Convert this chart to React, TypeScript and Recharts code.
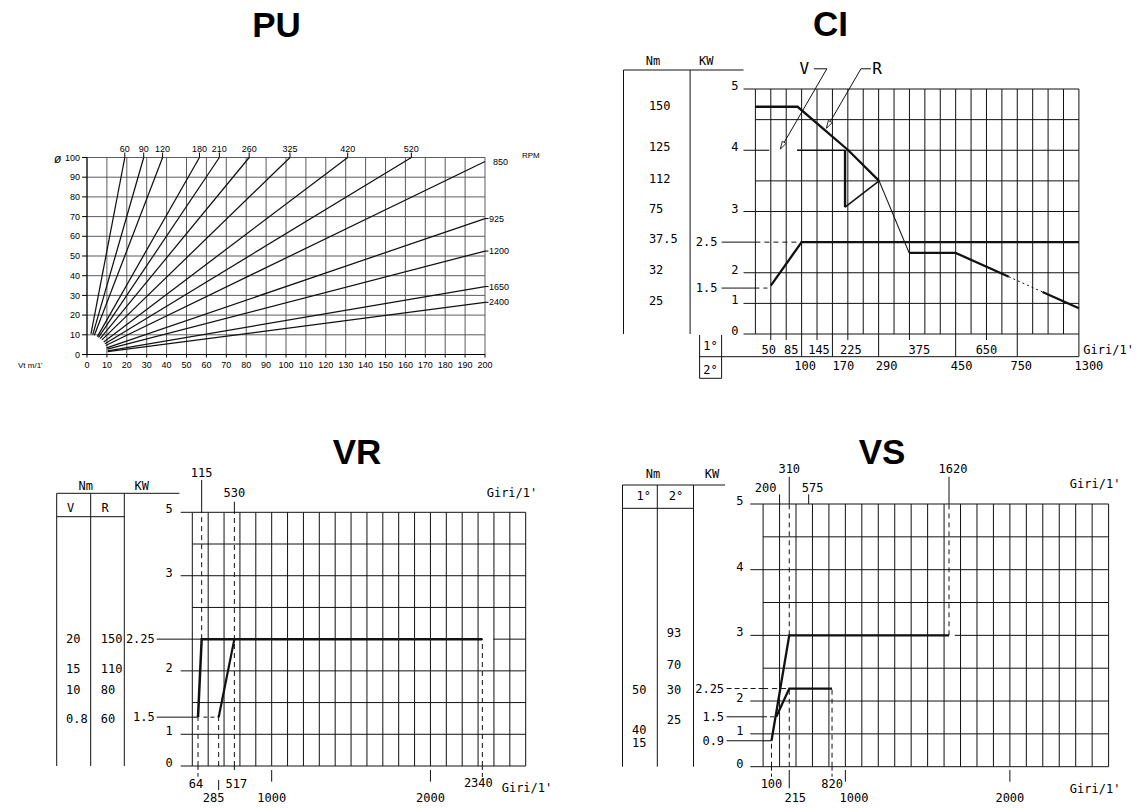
import React from "react";
import { LineChart, Line, XAxis, YAxis, CartesianGrid, ReferenceLine } from "recharts";

const MONO = "'DejaVu Sans Mono', 'Liberation Mono', monospace";
const SANS = "'Liberation Sans', Arial, sans-serif";
const INK = "#111";
const DASH = "5 4";

// ---------------- PU : Vt (m/1') against diameter ø, one ray per RPM ----------------
const puVtTicks = [0, 10, 20, 30, 40, 50, 60, 70, 80, 90, 100, 110, 120, 130, 140, 150, 160, 170, 180, 190, 200];
const puDiaTicks = [0, 10, 20, 30, 40, 50, 60, 70, 80, 90, 100];
const puTopRpm = [60, 90, 120, 180, 210, 260, 325, 420, 520];
const puTopVt = [19, 28.5, 38, 56.5, 66.5, 81.5, 102, 131, 163]; // where the ray meets ø 100
const puRightRpm = [850, 925, 1200, 1650, 2400];
const puRightDia = [98, 69, 52.5, 34.5, 26.5]; // where the ray meets Vt 200
const puStartVt = [2, 2.9, 3.7, 5.2, 5.8, 6.6, 7.5, 8.4, 9, 9.4, 9.9, 10.2, 10.4, 10.4];
const puStartDia = [10.5, 10.1, 9.8, 9.1, 8.7, 8.1, 7.4, 6.4, 5.5, 4.6, 3.4, 2.7, 1.8, 1.4];

const puRays = [
  ...puTopRpm.map((rpm, i) => ({
    rpm,
    pts: [{ vt: puStartVt[i], d: puStartDia[i] }, { vt: puTopVt[i], d: 100 }],
  })),
  ...puRightRpm.map((rpm, j) => ({
    rpm,
    pts: [{ vt: puStartVt[9 + j], d: puStartDia[9 + j] }, { vt: 200, d: puRightDia[j] }],
  })),
];

// ---------------- shared grid (diagram divisions) ----------------
const cols21 = [0, 1, 2, 3, 4, 5, 6, 7, 8, 9, 10, 11, 12, 13, 14, 15, 16, 17, 18, 19, 20, 21];
const rowsNo4 = [0, 1, 2, 3, 5, 6, 7, 8];

type Pt = { x: number; y: number };

// ---------------- CI ----------------
const ciKwLabels = ["0", "1", "1.5", "2", "2.5", "3", "4", "5"];
const ciKwRows = [0, 1, 1.5, 2, 3, 4, 6, 8];
const ciNmLabels = ["150", "125", "112", "75", "37.5", "32", "25"];
const ciNmRows = [7.45, 6.1, 5.07, 4.1, 3.12, 2.11, 1.1];
const ciGear1 = ["50", "85", "145", "225", "375", "650"];
const ciGear1Cols = [1, 2, 4, 6, 10, 15];
const ciGear2 = ["100", "170", "290", "450", "750", "1300"];
const ciGear2Cols = [3, 5, 8, 13, 17, 21];
const ciGridRows = [0, 1, 2, 4, 5, 7, 8];

const ciR: Pt[] = [{ x: 0, y: 7.42 }, { x: 2.74, y: 7.42 }, { x: 6.03, y: 6 }, { x: 8.03, y: 5 }];
const ciRFall: Pt[] = [{ x: 8.03, y: 5 }, { x: 9.98, y: 2.65 }];
const ciRTail: Pt[] = [{ x: 9.98, y: 2.65 }, { x: 12.99, y: 2.65 }, { x: 16.45, y: 1.87 }];
const ciRFaint: Pt[] = [{ x: 16.45, y: 1.87 }, { x: 18.64, y: 1.37 }];
const ciREnd: Pt[] = [{ x: 18.64, y: 1.37 }, { x: 21, y: 0.84 }];
const ciVLead: Pt[] = [{ x: 0, y: 6 }, { x: 0.9, y: 6 }];
const ciVFlat: Pt[] = [{ x: 2.7, y: 6 }, { x: 5.82, y: 6 }];
const ciVDrop: Pt[] = [{ x: 5.82, y: 6 }, { x: 5.82, y: 4.14 }];
const ciVRise: Pt[] = [{ x: 5.82, y: 4.14 }, { x: 8.03, y: 5 }];
const ciLow: Pt[] = [{ x: 1, y: 1.58 }, { x: 3, y: 3 }, { x: 21, y: 3 }];
const ciLowDash: Pt[] = [{ x: 0, y: 3 }, { x: 3, y: 3 }];
const ci15Dash: Pt[] = [{ x: 0, y: 1.5 }, { x: 1, y: 1.5 }];
const ciLeaders = [
  { name: "V", bar: [3.8, 4.64], from: { x: 4.64, y: 8.66 }, to: { x: 1.62, y: 6.04 } },
  { name: "R", bar: [6.85, 7.5], from: { x: 6.85, y: 8.66 }, to: { x: 4.61, y: 6.72 } },
];

// ---------------- VR ----------------
const vrKwLabels = ["0", "1", "1.5", "2", "2.25", "3", "5"];
const vrKwRows = [0, 1, 1.54, 3, 4, 6, 8];
const vrNmV = ["20", "15", "10", "0.8"];
const vrNmR = ["150", "110", "80", "60"];
const vrNmRows = [4, 3.07, 2.4, 1.5];
const vrBottomLabels = ["64", "285", "517", "1000", "2000", "2340"];
const vrBottomCols = [0.36, 1.66, 2.65, 5, 15, 18.27];
const vrTopLabels = ["115", "530"];
const vrTopCols = [0.59, 2.65];
const vrV: Pt[] = [{ x: 0.36, y: 1.54 }, { x: 0.59, y: 4 }, { x: 18.27, y: 4 }];
const vrR: Pt[] = [{ x: 1.66, y: 1.54 }, { x: 2.65, y: 4 }];

// ---------------- VS ----------------
const vsKwLabels = ["0", "0.9", "1", "1.5", "2", "2.25", "3", "4", "5"];
const vsKwRows = [0, 0.79, 1, 1.52, 2, 2.38, 4, 6, 8];
const vsNm1 = ["50", "40", "15"];
const vsNm1Rows = [2.36, 1.12, 0.72];
const vsNm2 = ["93", "70", "30", "25"];
const vsNm2Rows = [4.08, 3.1, 2.36, 1.44];
const vsBottomLabels = ["100", "215", "820", "1000", "2000"];
const vsBottomCols = [0.51, 1.59, 4.19, 5, 15];
const vsTopLabels = ["200", "310", "575", "1620"];
const vsTopCols = [1, 1.59, 2.77, 11.3];
const vs3kw: Pt[] = [{ x: 0.51, y: 0.79 }, { x: 1.59, y: 4 }, { x: 11.3, y: 4 }];
const vs225kw: Pt[] = [{ x: 0.8, y: 1.52 }, { x: 1.59, y: 2.38 }, { x: 4.19, y: 2.38 }];

// ---------------- config types ----------------
type Mark = { label: string; at: number; base: number; from: number; to: number; dash?: boolean; dx: number };
type MarkStyle = Omit<Mark, "label" | "at">;
type Series = { pts: Pt[]; w: number; dash?: string };
type TextCol = { label: string; at: number; dx: number };
type KwStyle = { intEnd: number; intFrom: number; decEnd: number; decFrom: number; dashed: string[] };
type Rect = { left: number; top: number; width: number; height: number };
type Plot = { left: number; right: number; top: number; bottom: number };

interface PlotCfg {
  box: Rect;
  plot: Plot;
  kw: { label: string; at: number }[];
  kwStyle: KwStyle;
  nm: TextCol[];
  bottom: Mark[];
  top: Mark[];
  gridCols: number[];
  gridRows: number[];
  gridSegs: { y: number; x1: number; x2: number }[];
  series: Series[];
  leaders?: typeof ciLeaders;
}

const near = (a: number, b: number) => Math.abs(a - b) < 1e-6;
const uniqSorted = (v: number[]) => Array.from(new Set(v)).sort((a, b) => a - b);
const marks = (labels: string[], at: number[], style: (l: string) => MarkStyle): Mark[] =>
  labels.map((label, i) => ({ label, at: at[i], ...style(label) }));

// CI
const ciDx: Record<string, number> = {
  "50": -2, "85": 5, "145": 2, "225": 3, "375": 10, "650": 0,
  "100": 3.6, "170": 11, "290": 8, "450": 6, "750": 4, "1300": 10,
};
const ciCfg: PlotCfg = {
  box: { left: 600, top: 40, width: 541, height: 345 },
  plot: { left: 755.4, right: 1078.9, top: 89, bottom: 334 },
  kw: ciKwLabels.map((label, i) => ({ label, at: ciKwRows[i] })),
  kwStyle: { intEnd: -16.9, intFrom: -11.9, decEnd: -37.9, decFrom: -33.8, dashed: [] },
  nm: ciNmLabels.map((label, i) => ({ label, at: ciNmRows[i], dx: -106.5 })),
  bottom: [
    ...marks(ciGear1, ciGear1Cols, (l) => ({ base: 20, from: 0, to: 6, dx: ciDx[l] })),
    ...marks(ciGear2, ciGear2Cols, (l) => ({ base: 36, from: 0, to: 22.7, dx: ciDx[l] })),
  ],
  top: [],
  gridCols: cols21,
  gridRows: ciGridRows,
  gridSegs: [{ y: 6, x1: 5.82, x2: 21 }],
  series: [
    { pts: ciR, w: 2.3 },
    { pts: ciRFall, w: 1.1 },
    { pts: ciRTail, w: 2.3 },
    { pts: ciRFaint, w: 1, dash: "2 3" },
    { pts: ciREnd, w: 2.3 },
    { pts: ciVLead, w: 1.1 },
    { pts: ciVFlat, w: 1.6 },
    { pts: ciVDrop, w: 2.4 },
    { pts: ciVRise, w: 1.5 },
    { pts: ciLow, w: 2.3 },
    { pts: ciLowDash, w: 1, dash: DASH },
    { pts: ci15Dash, w: 1, dash: "4 4" },
  ],
  leaders: ciLeaders,
};

// VR
const vrBottomStyle: Record<string, MarkStyle> = {
  "64": { base: 22.3, from: 0, to: 10.7, dash: true, dx: -2 },
  "285": { base: 35.7, from: 14, to: 24, dx: -5 },
  "517": { base: 22.3, from: 0, to: 5.7, dash: true, dx: 2 },
  "1000": { base: 35.7, from: 4, to: 15.7, dx: 0 },
  "2000": { base: 35.7, from: 4, to: 15.7, dx: 0 },
  "2340": { base: 20.7, from: 0, to: 12.3, dash: true, dx: -4 },
};
const vrTopStyle: Record<string, MarkStyle> = {
  "115": { base: 35.6, from: 0, to: 32.3, dx: 0 },
  "530": { base: 15.6, from: 0, to: 10.6, dx: 0 },
};
const vrCfg: PlotCfg = {
  box: { left: 40, top: 455, width: 530, height: 350 },
  plot: { left: 192.3, right: 525.7, top: 512.3, bottom: 766 },
  kw: vrKwLabels.map((label, i) => ({ label, at: vrKwRows[i] })),
  kwStyle: { intEnd: -19.6, intFrom: -11.6, decEnd: -37.5, decFrom: -35.6, dashed: [] },
  nm: [
    ...vrNmV.map((label, i) => ({ label, at: vrNmRows[i], dx: -126.3 })),
    ...vrNmR.map((label, i) => ({ label, at: vrNmRows[i], dx: -91.6 })),
  ],
  bottom: marks(vrBottomLabels, vrBottomCols, (l) => vrBottomStyle[l]),
  top: marks(vrTopLabels, vrTopCols, (l) => vrTopStyle[l]),
  gridCols: cols21,
  gridRows: rowsNo4,
  gridSegs: [{ y: 4, x1: 0, x2: 18.27 }, { y: 4, x1: 18.96, x2: 21 }],
  series: [
    { pts: vrV, w: 2.5 },
    { pts: vrR, w: 2.2 },
    { pts: [{ x: 0.59, y: 4 }, { x: 0.59, y: 8 }], w: 1, dash: DASH },
    { pts: [{ x: 2.65, y: 0 }, { x: 2.65, y: 8 }], w: 1, dash: DASH },
    { pts: [{ x: 0.36, y: 0 }, { x: 0.36, y: 1.54 }], w: 1, dash: DASH },
    { pts: [{ x: 1.66, y: 0 }, { x: 1.66, y: 1.54 }], w: 1, dash: DASH },
    { pts: [{ x: 18.27, y: 0 }, { x: 18.27, y: 4 }], w: 1, dash: DASH },
    { pts: [{ x: 0, y: 1.54 }, { x: 0.36, y: 1.54 }], w: 1.1 },
    { pts: [{ x: 0.7, y: 1.54 }, { x: 1.66, y: 1.54 }], w: 1, dash: "4 3" },
  ],
};

// VS
const vsBottomStyle: Record<string, MarkStyle> = {
  "100": { base: 21.6, from: 0, to: 10, dash: true, dx: 0 },
  "215": { base: 35, from: 3.3, to: 21.6, dx: 6 },
  "820": { base: 21.6, from: 0, to: 10, dash: true, dx: 0 },
  "1000": { base: 35, from: 3.3, to: 15, dx: 8.7 },
  "2000": { base: 35, from: 3.3, to: 15, dx: 0 },
};
const vsTopStyle: Record<string, MarkStyle> = {
  "200": { base: 12.3, from: 0, to: 9.7, dx: -14 },
  "310": { base: 30.7, from: 0, to: 27.3, dx: 0 },
  "575": { base: 12.3, from: 0, to: 9.7, dx: 4 },
  "1620": { base: 30.7, from: 0, to: 27.3, dx: 4 },
};
const vsCfg: PlotCfg = {
  box: { left: 610, top: 455, width: 531, height: 350 },
  plot: { left: 763.1, right: 1108.6, top: 504, bottom: 766.7 },
  kw: vsKwLabels.map((label, i) => ({ label, at: vsKwRows[i] })),
  kwStyle: { intEnd: -19.6, intFrom: -12.8, decEnd: -39, decFrom: -36.5, dashed: ["2.25"] },
  nm: [
    ...vsNm1.map((label, i) => ({ label, at: vsNm1Rows[i], dx: -131.1 })),
    ...vsNm2.map((label, i) => ({ label, at: vsNm2Rows[i], dx: -96.3 })),
  ],
  bottom: marks(vsBottomLabels, vsBottomCols, (l) => vsBottomStyle[l]),
  top: marks(vsTopLabels, vsTopCols, (l) => vsTopStyle[l]),
  gridCols: cols21,
  gridRows: rowsNo4,
  gridSegs: [{ y: 4, x1: 0, x2: 11.3 }, { y: 4, x1: 11.65, x2: 21 }],
  series: [
    { pts: vs3kw, w: 2.3 },
    { pts: vs225kw, w: 2.3 },
    { pts: [{ x: 0.51, y: 0 }, { x: 0.51, y: 0.79 }], w: 1, dash: DASH },
    { pts: [{ x: 1.59, y: 4 }, { x: 1.59, y: 8 }], w: 1, dash: DASH },
    { pts: [{ x: 1.59, y: 0 }, { x: 1.59, y: 2.38 }], w: 1, dash: DASH },
    { pts: [{ x: 4.19, y: 0 }, { x: 4.19, y: 2.38 }], w: 1, dash: DASH },
    { pts: [{ x: 11.3, y: 4 }, { x: 11.3, y: 8 }], w: 1, dash: DASH },
    { pts: [{ x: 0, y: 2.38 }, { x: 1.59, y: 2.38 }], w: 1, dash: DASH },
    { pts: [{ x: 0, y: 1.52 }, { x: 0.8, y: 1.52 }], w: 1, dash: "4 3" },
    { pts: [{ x: 0, y: 0.79 }, { x: 0.51, y: 0.79 }], w: 1.1 },
  ],
};

// ---------------- components ----------------
const monoText = { fontFamily: MONO, fontSize: 12, fill: "#000" } as const;

function LeaderShape(p: any) {
  const { x1, y1, x2, y2 } = p;
  if (x1 == null) return null;
  const a = Math.atan2(y2 - y1, x2 - x1);
  const L = 8;
  const h1 = [x2 - L * Math.cos(a - 0.28), y2 - L * Math.sin(a - 0.28)];
  const h2 = [x2 - L * Math.cos(a + 0.28), y2 - L * Math.sin(a + 0.28)];
  return (
    <g>
      <line x1={x1} y1={y1} x2={x2} y2={y2} stroke={INK} strokeWidth={1} />
      <path d={`M${h1[0]},${h1[1]}L${x2},${y2}L${h2[0]},${h2[1]}Z`} fill="#fff" stroke={INK} strokeWidth={0.9} />
    </g>
  );
}

function PlotterChart({ c }: { c: PlotCfg }) {
  const { box, plot } = c;
  const yWidth = plot.left - box.left;
  const bottomH = box.top + box.height - plot.bottom;
  const topGap = plot.top - box.top;
  const hasTop = c.top.length > 0;
  const margin = { left: 0, right: box.left + box.width - plot.right, top: hasTop ? 0 : topGap, bottom: 0 };
  const yTicks = uniqSorted([...c.kw.map((k) => k.at), ...c.nm.map((n) => n.at)]);

  const YTick = (p: any) => {
    const { x, y, payload } = p;
    const v = payload.value;
    const s = c.kwStyle;
    return (
      <g>
        {c.kw.filter((k) => near(k.at, v)).map((k) => {
          const dec = k.label.includes(".");
          return (
            <g key={"k" + k.label}>
              <line x1={x + (dec ? s.decFrom : s.intFrom)} x2={x} y1={y} y2={y} stroke={INK}
                strokeDasharray={s.dashed.includes(k.label) ? "5 3" : undefined} />
              <text x={x + (dec ? s.decEnd : s.intEnd)} y={y + (dec ? 4 : 1)} textAnchor="end" {...monoText}>{k.label}</text>
            </g>
          );
        })}
        {c.nm.filter((n) => near(n.at, v)).map((n) => (
          <text key={"n" + n.label + n.dx} x={x + n.dx} y={y + 4.3} textAnchor="start" {...monoText}>{n.label}</text>
        ))}
      </g>
    );
  };

  const BottomTick = (p: any) => {
    const { x, y, payload } = p;
    return (
      <g>
        {c.bottom.filter((b) => near(b.at, payload.value)).map((b) => (
          <g key={b.label}>
            <line x1={x} x2={x} y1={y + b.from} y2={y + b.to} stroke={INK} strokeDasharray={b.dash ? "4 3" : undefined} />
            <text x={x + b.dx} y={y + b.base} textAnchor="middle" {...monoText}>{b.label}</text>
          </g>
        ))}
      </g>
    );
  };

  const TopTick = (p: any) => {
    const { x, y, payload } = p;
    return (
      <g>
        {c.top.filter((b) => near(b.at, payload.value)).map((b) => (
          <g key={b.label}>
            <line x1={x} x2={x} y1={y - b.to} y2={y - b.from} stroke={INK} strokeDasharray={b.dash ? "4 3" : undefined} />
            <text x={x + b.dx} y={y - b.base} textAnchor="middle" {...monoText}>{b.label}</text>
          </g>
        ))}
      </g>
    );
  };

  return (
    <div style={{ position: "absolute", left: box.left, top: box.top }}>
      <LineChart width={box.width} height={box.height} margin={margin}>
        <XAxis dataKey="x" type="number" domain={[0, 21]} ticks={uniqSorted(c.bottom.map((b) => b.at))} interval={0}
          height={bottomH} tickSize={0} tickMargin={0} axisLine={false} tickLine={false} tick={BottomTick} />
        {hasTop && (
          <XAxis xAxisId="top" dataKey="x" orientation="top" type="number" domain={[0, 21]} ticks={uniqSorted(c.top.map((b) => b.at))}
            interval={0} height={topGap} tickSize={0} tickMargin={0} axisLine={false} tickLine={false} tick={TopTick} />
        )}
        <YAxis type="number" domain={[0, 8]} ticks={yTicks} interval={0} width={yWidth} tickSize={0} tickMargin={0}
          axisLine={false} tickLine={false} tick={YTick} />
        {c.gridCols.map((g) => (
          <ReferenceLine key={"gc" + g} x={g} stroke={INK} strokeWidth={1} ifOverflow="visible" />
        ))}
        {c.gridRows.map((g) => (
          <ReferenceLine key={"gr" + g} y={g} stroke={INK} strokeWidth={1} ifOverflow="visible" />
        ))}
        {c.gridSegs.map((g, i) => (
          <ReferenceLine key={"gs" + i} segment={[{ x: g.x1, y: g.y }, { x: g.x2, y: g.y }]} stroke={INK} strokeWidth={1} ifOverflow="visible" />
        ))}
        {c.series.map((s, i) => (
          <Line key={"s" + i} data={s.pts} dataKey="y" type="linear" stroke={INK} strokeWidth={s.w}
            strokeDasharray={s.dash} dot={false} activeDot={false} isAnimationActive={false} />
        ))}
        {hasTop && (
          <Line xAxisId="top" data={[{ x: 0, y: 0 }, { x: 21, y: 0 }]} dataKey="y" stroke="none" dot={false}
            activeDot={false} isAnimationActive={false} />
        )}
        {(c.leaders || []).map((l) => (
          <ReferenceLine key={"lb" + l.name} segment={[{ x: l.bar[0], y: l.from.y }, { x: l.bar[1], y: l.from.y }]}
            stroke={INK} strokeWidth={1} ifOverflow="visible" />
        ))}
        {(c.leaders || []).map((l) => (
          <ReferenceLine key={"ld" + l.name} segment={[l.from, l.to]} stroke={INK} strokeWidth={1} ifOverflow="visible" shape={LeaderShape} />
        ))}
      </LineChart>
    </div>
  );
}

function PuRightTick(p: any) {
  const { x, y, payload } = p;
  const i = puRightDia.indexOf(payload.value);
  const rpm = puRightRpm[i];
  const bare = rpm === 850;
  return (
    <g>
      {!bare && <line x1={x} y1={y} x2={x + 3.5} y2={y} stroke="#000" />}
      <text x={x + (bare ? 8 : 4)} y={y + 3.2} fontSize={9} fontFamily={SANS} fill="#000">{rpm}</text>
    </g>
  );
}

function PUChart() {
  const tick = { fontSize: 9, fill: "#000", fontFamily: SANS };
  return (
    <div style={{ position: "absolute", left: 0, top: 130 }}>
      <LineChart width={560} height={260} margin={{ top: 7.5, right: 25, bottom: 15.5, left: 42 }}>
        <CartesianGrid stroke="#4a4a4a" strokeWidth={0.9} />
        <XAxis dataKey="vt" type="number" domain={[0, 200]} ticks={puVtTicks} interval={0} height={20}
          tickSize={3} tickMargin={4} axisLine={{ stroke: "#000" }} tickLine={{ stroke: "#000" }} tick={tick} />
        <XAxis xAxisId="top" dataKey="vt" orientation="top" type="number" domain={[0, 200]} ticks={puTopVt} interval={0} height={20}
          tickSize={5} tickMargin={1} axisLine={false} tickLine={{ stroke: "#000" }} tick={tick}
          tickFormatter={(v: number) => String(puTopRpm[puTopVt.indexOf(v)])} />
        <YAxis type="number" domain={[0, 100]} ticks={puDiaTicks} interval={0} width={45} tickSize={5} tickMargin={2}
          axisLine={{ stroke: "#000" }} tickLine={{ stroke: "#000" }} tick={tick} />
        <YAxis yAxisId="right" orientation="right" type="number" domain={[0, 100]} ticks={puRightDia} interval={0} width={50}
          tickSize={0} tickMargin={0} axisLine={false} tickLine={false} tick={PuRightTick} />
        {puRays.map((r) => (
          <Line key={r.rpm} data={r.pts} dataKey="d" type="linear" stroke={INK} strokeWidth={1.25}
            dot={false} activeDot={false} isAnimationActive={false} />
        ))}
        <Line xAxisId="top" data={[{ vt: 0, d: 0 }, { vt: 200, d: 0 }]} dataKey="d" stroke="none" dot={false}
          activeDot={false} isAnimationActive={false} />
        <Line yAxisId="right" data={[{ vt: 0, d: 0 }, { vt: 200, d: 0 }]} dataKey="d" stroke="none" dot={false}
          activeDot={false} isAnimationActive={false} />
      </LineChart>
    </div>
  );
}

function Overlay() {
  const title = { fontFamily: SANS, fontSize: 35, fontWeight: 700, fill: "#000", textAnchor: "middle" } as const;
  const mono = { ...monoText };
  const ln = { stroke: INK, strokeWidth: 1, fill: "none" };
  return (
    <svg width={1141} height={808} style={{ position: "absolute", left: 0, top: 0, pointerEvents: "none" }}>
      <text x={276.5} y={37} {...title}>PU</text>
      <text x={830.5} y={36} {...title}>CI</text>
      <text x={357} y={464} {...title}>VR</text>
      <text x={882} y={464} {...title}>VS</text>

      {/* PU captions */}
      <text x={54} y={163} fontFamily={SANS} fontSize={12} fontStyle="italic">ø</text>
      <text x={18} y={368} fontFamily={SANS} fontSize={8}>Vt m/1'</text>
      <text x={522} y={158} fontFamily={SANS} fontSize={8}>RPM</text>

      {/* CI table */}
      <path d="M623.5,70V334M690.1,70V334M623.5,70H743.5" {...ln} />
      <text x={652.9} y={65} textAnchor="middle" {...mono}>Nm</text>
      <text x={706.3} y={65} textAnchor="middle" {...mono}>KW</text>
      <path d="M699.6,335V378.3H721.6V335M699.6,356.7H1078.9" {...ln} />
      <text x={710.6} y={350} textAnchor="middle" {...mono}>1°</text>
      <text x={710.6} y={374} textAnchor="middle" {...mono}>2°</text>
      <text x={1083.3} y={354} {...mono}>Giri/1'</text>
      <text x={804.4} y={74} textAnchor="middle" {...mono} fontSize={16}>V</text>
      <text x={877.1} y={74} textAnchor="middle" {...mono} fontSize={16}>R</text>

      {/* VR table */}
      <path d="M56.7,493.3V766M90.7,493.3V766M124.3,493.3V766M56.7,493.3H179.3M56.7,516.7H124.3" {...ln} />
      <text x={85.7} y={490} textAnchor="middle" {...mono}>Nm</text>
      <text x={141.7} y={490} textAnchor="middle" {...mono}>KW</text>
      <text x={70.7} y={511.7} textAnchor="middle" {...mono}>V</text>
      <text x={105} y={511.7} textAnchor="middle" {...mono}>R</text>
      <text x={486.7} y={496.7} {...mono}>Giri/1'</text>
      <text x={501.7} y={791.7} {...mono}>Giri/1'</text>

      {/* VS table */}
      <path d="M622.5,485V766.7M657.3,485V766.7M693.5,485V766.7M622.5,485H725M622.5,508.3H693.5" {...ln} />
      <text x={653} y={478.3} textAnchor="middle" {...mono}>Nm</text>
      <text x={712} y={478.3} textAnchor="middle" {...mono}>KW</text>
      <text x={643.8} y={500} textAnchor="middle" {...mono}>1°</text>
      <text x={675.9} y={500} textAnchor="middle" {...mono}>2°</text>
      <text x={1069.8} y={488.3} {...mono}>Giri/1'</text>
      <text x={1069.8} y={793.3} {...mono}>Giri/1'</text>
    </svg>
  );
}

export default function App() {
  return (
    <div style={{ position: "absolute", left: 0, top: 0, width: 1141, height: 808, background: "#fff", overflow: "hidden" }}>
      <PUChart />
      <PlotterChart c={ciCfg} />
      <PlotterChart c={vrCfg} />
      <PlotterChart c={vsCfg} />
      <Overlay />
    </div>
  );
}
